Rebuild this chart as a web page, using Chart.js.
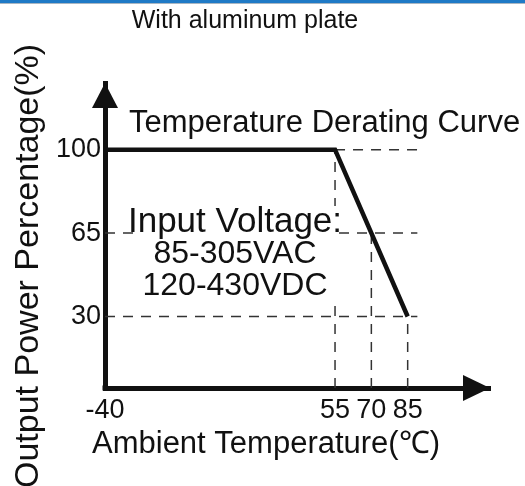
<!DOCTYPE html>
<html>
<head>
<meta charset="utf-8">
<script src="https://cdn.jsdelivr.net/npm/chart.js@4.4.1/dist/chart.umd.min.js"></script>
<style>
  html, body { margin: 0; padding: 0; background: #fff; }
  #wrap { width: 525px; height: 486px; position: relative; }
</style>
</head>
<body>
<div id="wrap"><canvas id="myChart"></canvas></div>
<script>
// derating curve
const tempPoints = [-40, 55, 85];
const powerPoints = [100, 100, 30];

// dashed guide marks
const markTemps = [55, 70, 85];
const markPowers = [100, 65, 30];
const guideStarts = [55, -40, -40];
const guideEnd = 89;

// ticks
const xTickValues = [-40, 55, 70, 85];
const yTickValues = [30, 65, 100];

const titleText = 'With aluminum plate';
const curveLabel = 'Temperature Derating Curve';
const inputLines = ['Input Voltage:', '85-305VAC', '120-430VDC'];
const xTitle = 'Ambient Temperature(℃)';
const yTitle = 'Output Power Percentage(%)';

const FONT = '"Liberation Sans", Arial, sans-serif';
const INK = '#111';

const makeCurve = () => tempPoints.map((t, i) => ({ x: t, y: powerPoints[i] }));

const makeGuides = () => {
  let sets = [];
  markPowers.forEach((p, i) => {
    sets.push([{ x: guideStarts[i], y: p }, { x: guideEnd, y: p }]);
  });
  markTemps.forEach((t, i) => {
    sets.push([{ x: t, y: 0 }, { x: t, y: markPowers[i] }]);
  });
  return sets.map((d) => ({
    data: d,
    borderColor: '#333',
    borderWidth: 1.5,
    borderDash: [10, 8],
    pointRadius: 0,
    order: 2
  }));
};

const decor = {
  id: 'decor',
  beforeDraw(chart) {
    const ctx = chart.ctx;
    ctx.save();
    ctx.fillStyle = '#fff';
    ctx.fillRect(0, 0, chart.width, chart.height);
    ctx.fillStyle = '#1f7ac6';
    ctx.fillRect(0, 0, chart.width, 3);
    ctx.fillStyle = '#a9b6c2';
    ctx.fillRect(0, 3, chart.width, 1);
    ctx.restore();
  },
  afterDatasetsDraw(chart) {
    const ctx = chart.ctx;
    const a = chart.chartArea;
    ctx.save();

    // arrow heads + corner
    ctx.fillStyle = INK;
    ctx.fillRect(a.left - 2.5, a.bottom - 2.5, 5, 5);
    ctx.beginPath();
    ctx.moveTo(a.left, a.top);
    ctx.lineTo(a.left - 13, a.top + 25);
    ctx.lineTo(a.left + 13, a.top + 25);
    ctx.closePath();
    ctx.fill();
    ctx.beginPath();
    ctx.moveTo(a.right, a.bottom);
    ctx.lineTo(a.right - 27, a.bottom - 13);
    ctx.lineTo(a.right - 27, a.bottom + 13);
    ctx.closePath();
    ctx.fill();

    // curve label
    ctx.fillStyle = INK;
    ctx.textBaseline = 'alphabetic';
    ctx.textAlign = 'left';
    ctx.font = '31px ' + FONT;
    ctx.fillText(curveLabel, 129, 132);

    // input voltage block
    const cx = 235;
    const baselines = [232, 263, 295];
    const sizes = [35, 32, 32];
    let w = 0;
    inputLines.forEach((s, i) => {
      ctx.font = sizes[i] + 'px ' + FONT;
      w = Math.max(w, ctx.measureText(s).width);
    });
    ctx.fillStyle = '#fff';
    ctx.fillRect(cx - w / 2 + 6, baselines[0] - 26, w - 12, baselines[2] - baselines[0] + 34);
    ctx.fillStyle = INK;
    ctx.textAlign = 'center';
    inputLines.forEach((s, i) => {
      ctx.font = sizes[i] + 'px ' + FONT;
      ctx.fillText(s, cx, baselines[i]);
    });

    // axis titles
    ctx.textAlign = 'left';
    ctx.font = '31px ' + FONT;
    ctx.fillText(xTitle, 92, 453);
    ctx.translate(38, 488);
    ctx.rotate(-Math.PI / 2);
    ctx.font = '34px ' + FONT;
    ctx.fillText(yTitle, 0, 0);
    ctx.restore();
  }
};

const generateChart = () => {
  var ctx = document.getElementById('myChart').getContext('2d');
  var myChart = new Chart(ctx, {
    type: 'line',
    data: {
      datasets: [{
        data: makeCurve(),
        borderColor: INK,
        borderWidth: 4.5,
        pointRadius: 0,
        order: 1
      }].concat(makeGuides())
    },
    options: {
      responsive: true,
      maintainAspectRatio: false,
      animation: false,
      events: [],
      layout: { padding: { top: 0, right: 35, bottom: 0, left: 0 } },
      plugins: {
        legend: { display: false },
        tooltip: { enabled: false },
        title: {
          display: true,
          text: titleText,
          color: INK,
          font: { family: FONT, size: 25, weight: 'normal' },
          padding: { top: 6, bottom: 47 }
        }
      },
      scales: {
        x: {
          type: 'linear',
          min: -40,
          max: 119,
          afterBuildTicks: (s) => { s.ticks = xTickValues.map((v) => ({ value: v })); },
          afterFit: (s) => { s.height = 98; },
          grid: { display: false, drawTicks: false },
          border: { display: true, width: 5, color: INK },
          ticks: { autoSkip: false, maxRotation: 0, padding: 6, color: INK, font: { family: FONT, size: 27 } }
        },
        y: {
          type: 'linear',
          min: 0,
          max: 128,
          afterBuildTicks: (s) => { s.ticks = yTickValues.map((v) => ({ value: v })); },
          afterFit: (s) => { s.width = 105; },
          grid: { display: false, drawTicks: false },
          border: { display: true, width: 5, color: INK },
          ticks: { autoSkip: false, padding: 4, color: INK, font: { family: FONT, size: 27 } }
        }
      }
    },
    plugins: [decor]
  });
  return myChart;
};

generateChart();
</script>
</body>
</html>
